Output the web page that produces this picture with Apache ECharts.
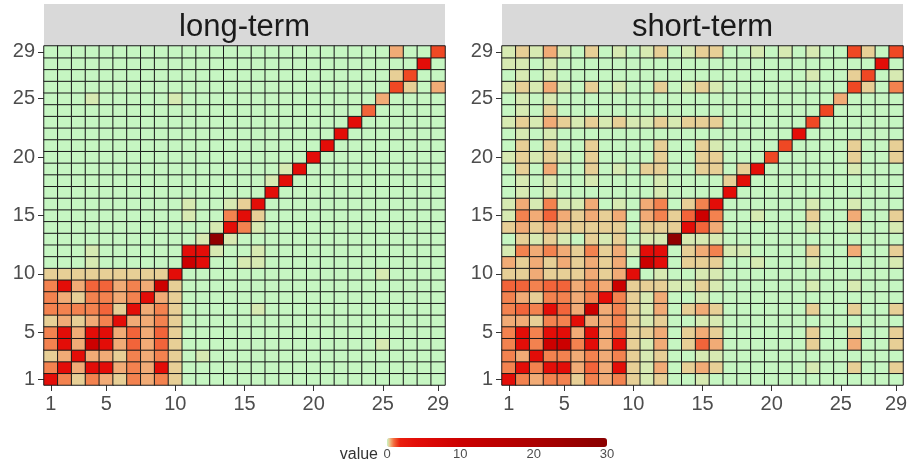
<!DOCTYPE html>
<html>
<head>
<meta charset="utf-8">
<script src="https://cdn.jsdelivr.net/npm/echarts/dist/echarts.min.js"></script>
<style>html,body{margin:0;padding:0;background:#fff}#c{width:911px;height:474px}</style>
</head>
<body>
<div id="c"></div>
<script>
// ---------------- data ----------------
const categories = ['1','2','3','4','5','6','7','8','9','10','11','12','13','14','15',
  '16','17','18','19','20','21','22','23','24','25','26','27','28','29'];
const tickLabels = ['1','5','10','15','20','25','29'];
const panelTitles = ['long-term', 'short-term'];
const legendTicks = [0, 10, 20, 30];
const legendTitle = 'value';
// value levels (codes used in the row strings below)
const levels = {G: 0, F: 0.12, T: 0.3, L: 0.5, O: 0.75, Q: 1, P: 1.3, R: 4, D: 10, X: 28};
// one string per y category (1 at the top of the list), one code per x category
const longTermRows = [
  'ROTOL TOLOT GGGGG GGGGG GGGGG GGGG',
  'ORLRR LOLRT GGGGG GGGGG GGGGG GGGG',
  'TLRLL TOLOT GFGGG GGGGG GGGGG GGGG',
  'ORLDR LQLQT GGGGG GGGGG GGGGF GGGG',
  'ORLRR LQLQT GGGGG GGGGG GGGGG GGGG',
  'TLTLO RLLOT GGGGG GGGGG GGGGG GGGG',
  'OOOOQ TRLOT GGGGG FGGGG GGGGG GGGG',
  'OLTOO LORLT GGGGG GGGGG GGGGG GGGG',
  'ORLQQ LOLDT GGGGG GGGGG GGGGG GGGG',
  'TTTTT TTTTR GGGGG GGGGG GGGGF GGGG',
  'GGGFG GGGGG DRGGF FGGGG GGGGG GGGG',
  'GGGFG GGGGG RRFGG FGGGG GGGGG GGGG',
  'GGGGG GGGGG GFXFG GGGGG GGGGG GGGG',
  'GGGGG GGGGG GGFRO FGGGG GGGGG GGGG',
  'GGGGG GGGGG FGGOR TGGGG GGGGG GGGG',
  'GGGGG GGGGG FGGFT RGGGG GGGGG GGGG',
  'GGGGG GGGGG GGGGG GRGGG GGGGG GGGG',
  'GGGGG GGGGG GGGGG GFRGG GGGGG GGGG',
  'GGGGG GGGGG GGGGG GGFRG GGGGG GGGG',
  'GGGGG GGGGG GGGGG GGGGR GGGGG GGGG',
  'GGGGG GGGGG GGGGG GGGGG RGGGG GGGG',
  'GGGGG GGGGG GGGGG GGGGG GRGGG GGGG',
  'GGGGG GGGGG GGGGG GGGGG GGRGG GGGG',
  'GGGGG GGGGG GGGGG GGGGG GGGQG GGGG',
  'GGGFG GGGGF GGGGG GGGGG GGGGL GGGG',
  'GGGGG GGGGG GGGGG GGGGG GGGGG PTGL',
  'GGGGG GGGGG GGGGG GGGGG GGGGG TPGG',
  'GGGGG GGGGG GGGGG GGGGG GGGGG GGRG',
  'GGGGG GGGGG GGGGG GGGGG GGGGG LGGP'
];
const shortTermRows = [
  'ROLOO TOLOT FTGGF GGGGG GGGGG GGGG',
  'ORORR LQLRT FLGTL TGGGG GGFGG TGGT',
  'OLROO LOLOT FTGGF FGGGG GGGGG GGGG',
  'ORODD ORLRT FLGTQ LGGGG GGTGG LGGT',
  'ORORR LRLQT TLGTL TGGGG GGTGG TGGT',
  'LLTOO RLLOT FTGGF FGGGG GGGGG GGGG',
  'OQORQ LDLOT FLGTL TGGGG GGTGG TGGT',
  'OLTOO LOROT FLGGF GGGGG GGGGG GGGG',
  'QQOQQ LOLDT TTFFT FGGGG GGFGG FGGG',
  'TTLTT TLTLR GFGGF FGGGG GGGGG GGGG',
  'LTLTL TLTLG DRGTT TGGFG GGFGG GGGF',
  'FOLOL TOTLF RRGTL OFFGG GGTGG LGGT',
  'GTFTF GTFTG FFXFF FGGGG GGGGG GGGG',
  'TLTLT TTTTG TTTRQ LGGGG GGFGG FGGF',
  'FOLQL TLTLG LOTQD OGGFG GGTGG LGGT',
  'FLFOF FLGFG LOGTO RGGGG GGFGG FGGG',
  'GFGFG GGGGG GFGGG GRGGG GGGGG GGGG',
  'GFGFG GFGGG GFGGG GTRGG GGGGG GGGG',
  'GTGLG GTGFG TTGGT TGTRG GGGGG FGGG',
  'FTFTF GTGGG GTGGT TGGGP GGGGG TGGT',
  'GTGTG GTGGG GTGGT FGGGG PGGGG TGGT',
  'GFGFG GGGGG GGGGG GGGGG GRGGG GGGG',
  'FTFLT FTFTF FTFTT TGGGG GGPGG GGGG',
  'GFGTG GGGGG GGGGG GGGGG GGGPG GGGG',
  'GFGFG GGGGG GGGGG GGGGG GGGGL GGGG',
  'FTFLF GTGFG GTGFT FGGGG GGGGG PTGO',
  'GFGFG GGGGG GGGGG GGGGG GGFGG TPGF',
  'FFGFG GGGGG GGGGG GGGGG GGGGG GGRG',
  'FTFLF GTGFG FTGFT TGGFG FGFGG PTGP'
];

// ---------------- styles ----------------
const colorStops = [
  [0, '#c6f6c2'], [0.12, '#d8ebb2'], [0.3, '#e7cf96'], [0.5, '#f1ab76'],
  [0.75, '#f3824f'], [1, '#f2643a'], [1.3, '#ef4824'], [1.8, '#ea1e0e'],
  [4, '#e30d08'], [10, '#cc0000'], [20, '#ad0000'], [28, '#900000'], [30, '#8b0000']
];
function hex2rgb(h){return [parseInt(h.substr(1,2),16),parseInt(h.substr(3,2),16),parseInt(h.substr(5,2),16)];}
function colorAt(v){
  for (let k = 1; k < colorStops.length; k++) {
    const a = colorStops[k-1], b = colorStops[k];
    if (v <= b[0] + 1e-9) {
      const t = (v - a[0]) / (b[0] - a[0]);
      const ca = hex2rgb(a[1]), cb = hex2rgb(b[1]);
      return 'rgb(' + ca.map((c, i) => Math.round(c + (cb[i] - c) * t)).join(',') + ')';
    }
  }
  return colorStops[colorStops.length-1][1];
}
const palette = [];
for (let k = 0; k <= 600; k++) palette.push(colorAt(k * 0.05));

function toData(rows){
  const out = [];
  rows.forEach((r, yi) => {
    const s = r.replace(/\s/g, '');
    for (let xi = 0; xi < s.length; xi++) out.push([xi, yi, levels[s[xi]]]);
  });
  return out;
}

const FONT = '"Liberation Sans", Arial, sans-serif';
const showIdx = (idx) => tickLabels.indexOf(categories[idx]) >= 0;
const grids = [
  {left: 44, top: 46, width: 401, height: 339},
  {left: 502, top: 46, width: 401, height: 339},
  {left: 387, top: 438, width: 220, height: 9}
];
function catAxis(g){
  return {
    type: 'category', data: categories, gridIndex: g,
    axisLine: {show: false},
    axisTick: {show: true, alignWithLabel: true, interval: showIdx, length: 6, lineStyle: {color: '#333', width: 1}},
    axisLabel: {interval: showIdx, fontSize: 20, color: '#4d4d4d', margin: 9, fontFamily: FONT},
    splitLine: {show: false}, splitArea: {show: false}
  };
}

const chart = echarts.init(document.getElementById('c'), null, {renderer: 'canvas'});
const option = {
  animation: false,
  backgroundColor: '#ffffff',
  grid: grids,
  xAxis: [
    catAxis(0), catAxis(1),
    {type: 'value', gridIndex: 2, min: 0, max: 30, interval: 10,
     axisLine: {show: false}, splitLine: {show: false},
     axisTick: {show: true, inside: true, length: 3, customValues: [10, 20], lineStyle: {color: '#ffffff', width: 1}},
     axisLabel: {fontSize: 13, color: '#4d4d4d', margin: 1, fontFamily: FONT, customValues: legendTicks},
     name: legendTitle, nameLocation: 'start', nameGap: 9,
     nameTextStyle: {fontSize: 16, color: '#333', fontFamily: FONT, align: 'right', verticalAlign: 'top'}}
  ],
  yAxis: [
    catAxis(0), catAxis(1),
    {type: 'value', gridIndex: 2, show: false, min: 0, max: 1}
  ],
  visualMap: {
    type: 'continuous', min: 0, max: 30, seriesIndex: [0, 1],
    orient: 'horizontal', left: 387, top: 438, itemWidth: 9, itemHeight: 220,
    padding: 0, calculable: false, text: null, hoverLink: false,
    inRange: {color: palette}
  },
  graphic: [
    {type: 'rect', shape: {x: 44, y: 4, width: 401, height: 42}, style: {fill: '#d9d9d9'}, silent: true},
    {type: 'rect', shape: {x: 502, y: 4, width: 401, height: 42}, style: {fill: '#d9d9d9'}, silent: true},
    {type: 'text', x: 244.5, y: 27, silent: true,
     style: {text: panelTitles[0], font: '31px ' + FONT, fill: '#1a1a1a', textAlign: 'center', textVerticalAlign: 'middle', align: 'center', verticalAlign: 'middle'}},
    {type: 'text', x: 702.5, y: 27, silent: true,
     style: {text: panelTitles[1], font: '31px ' + FONT, fill: '#1a1a1a', textAlign: 'center', textVerticalAlign: 'middle', align: 'center', verticalAlign: 'middle'}}
  ],
  series: [
    {type: 'heatmap', xAxisIndex: 0, yAxisIndex: 0, data: toData(longTermRows),
     itemStyle: {borderColor: '#1a1a1a', borderWidth: 1}, emphasis: {disabled: true}, progressive: 0},
    {type: 'heatmap', xAxisIndex: 1, yAxisIndex: 1, data: toData(shortTermRows),
     itemStyle: {borderColor: '#1a1a1a', borderWidth: 1}, emphasis: {disabled: true}, progressive: 0}
  ]
};
chart.setOption(option);
</script>
</body>
</html>
